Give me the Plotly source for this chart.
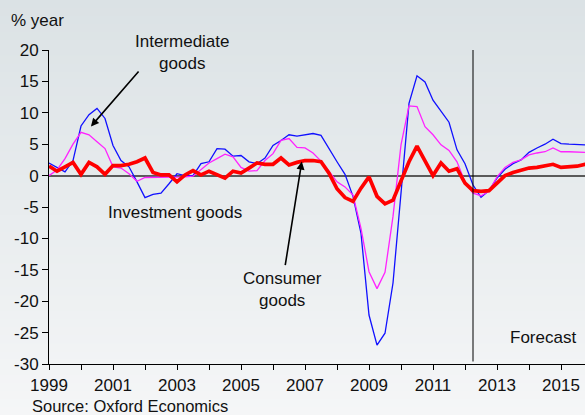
import pandas as pd
import plotly.graph_objects as go

# quarterly periods, 1999Q1 .. 2016Q1
quarters = pd.period_range("1999Q1", "2016Q1", freq="Q")

intermediate = [2.0, 1.3, 0.6, 2.4, 7.9, 9.7, 10.7, 9.1, 4.8, 2.4,
                1.4, -1.0, -3.5, -3.0, -2.8, -1.3, 0.3, 0.0, 0.0, 1.9,
                2.2, 4.3, 4.2, 3.1, 3.2, 2.2, 1.9, 2.8, 4.8, 5.6,
                6.5, 6.3, 6.5, 6.7, 6.4, 4.2, 2.2, 0.2, -3.3, -9.2,
                -22.2, -27.0, -25.1, -17.1, -3.0, 11.5, 15.9, 14.9, 12.0, 10.2,
                8.5, 4.1, 1.9, -1.5, -3.45, -2.4, -0.4, 1.0, 1.9, 2.5,
                3.7, 4.4, 5.0, 5.8, 5.1, 5.0, 5.0, 4.9, 4.85]
investment = [0.0, 0.9, 2.7, 5.0, 6.9, 6.5, 5.4, 4.3, 1.4, 1.2,
              0.3, -0.9, -0.3, -0.3, -0.2, -0.3, -0.2, -0.2, -0.1, 0.9,
              2.0, 2.7, 3.4, 3.0, 1.3, 0.7, 0.8, 2.4, 3.5, 5.6,
              5.9, 4.5, 4.4, 3.6, 2.3, 0.7, -1.0, -1.8, -3.1, -8.4,
              -15.3, -18.0, -15.4, -6.5, 4.9, 11.1, 11.0, 7.8, 6.5, 4.9,
              4.0, 2.2, -1.0, -2.8, -3.2, -2.5, -0.2, 1.3, 2.1, 2.5,
              3.3, 3.6, 3.8, 4.4, 3.8, 3.8, 3.7, 3.7, 3.7]
consumer = [1.5, 0.7, 1.4, 2.1, 0.2, 2.1, 1.4, 0.2, 1.6, 1.6,
            1.8, 2.2, 2.8, 0.5, 0.1, 0.1, -1.0, 0.1, 0.8, 0.1,
            0.7, 0.1, -0.4, 0.7, 0.4, 1.2, 2.0, 1.8, 1.8, 2.8,
            1.7, 2.1, 2.4, 2.4, 2.2, 0.4, -2.1, -3.5, -4.1, -2.0,
            -0.2, -3.3, -4.5, -3.9, -0.7, 2.2, 4.7, 2.4, 0.0, 2.0,
            0.7, 1.1, -1.2, -2.4, -2.5, -2.4, -1.1, 0.0, 0.5, 0.8,
            1.2, 1.3, 1.5, 1.8, 1.3, 1.4, 1.5, 1.8, 1.9]

forecast_start = 2012.25

x_tick_vals = list(range(1999, 2017))
x_tick_text = ["1999", "", "2001", "", "2003", "", "2005", "", "2007", "",
               "2009", "", "2011", "", "2013", "", "2015", ""]
y_tick_vals = [20, 15, 10, 5, 0, -5, -10, -15, -20, -25, -30]
y_tick_text = ["20", "15", "10", "5", "0", "-5", "-10", "-15", "-20", "-25", "-30"]

FONT = "Liberation Sans, Arial, sans-serif"
W, H = 585, 415
ML, MR, MT, MB = 49, 0, 50, 51

x = [p.year + (p.quarter - 1) / 4 for p in quarters]

fig = go.Figure()
fig.add_trace(go.Scatter(x=x, y=intermediate, mode="lines",
                         line=dict(color="#1010ff", width=1.3)))
fig.add_trace(go.Scatter(x=x, y=investment, mode="lines",
                         line=dict(color="#ff22ff", width=1.3)))
fig.add_trace(go.Scatter(x=x, y=consumer, mode="lines",
                         line=dict(color="#ff0000", width=3.7)))

# soft vertical gradient behind everything
n_bands = 52
top_c, bot_c = (219, 226, 229), (245, 246, 247)
plot_h = H - MT - MB
for i in range(n_bands):
    t = i / (n_bands - 1)
    c = tuple(round(top_c[k] + (bot_c[k] - top_c[k]) * t) for k in range(3))
    y0_px = H * i / n_bands
    y1_px = H * (i + 1) / n_bands + 1
    fig.add_shape(type="rect", xref="paper", yref="paper", layer="below",
                  x0=-ML / (W - ML - MR) - 0.01, x1=1.01,
                  y0=(H - MB - y1_px) / plot_h, y1=(H - MB - y0_px) / plot_h,
                  line=dict(width=0), fillcolor="rgb(%d,%d,%d)" % c)

# forecast divider
fig.add_shape(type="line", xref="x", yref="y", x0=forecast_start, x1=forecast_start,
              y0=-29.6, y1=20.5, line=dict(color="black", width=1))

txt = dict(family=FONT, size=17, color="#111111")
fig.add_annotation(x=2003.18, y=19.6, text="Intermediate<br>goods", showarrow=False,
                   font=txt, xanchor="center", yanchor="middle")
fig.add_annotation(x=2000.31, y=7.83, ax=2001.84, ay=16.83, axref="x", ayref="y",
                   text="", showarrow=True, arrowhead=2, arrowsize=1,
                   arrowwidth=1.6, arrowcolor="black")
fig.add_annotation(x=2002.93, y=-5.9, text="Investment goods", showarrow=False,
                   font=txt, xanchor="center", yanchor="middle")
fig.add_annotation(x=2006.31, y=-18.2, text="Consumer<br>goods", showarrow=False,
                   font=txt, xanchor="center", yanchor="middle")
fig.add_annotation(x=2006.90, y=2.23, ax=2006.375, ay=-14.49, axref="x", ayref="y",
                   text="", showarrow=True, arrowhead=2, arrowsize=1,
                   arrowwidth=1.6, arrowcolor="black")
fig.add_annotation(x=2014.44, y=-25.8, text="Forecast", showarrow=False,
                   font=txt, xanchor="center", yanchor="middle")
fig.add_annotation(xref="paper", yref="paper", x=(9 - ML) / (W - ML - MR),
                   y=(H - MB - 20) / plot_h, text="% year", showarrow=False,
                   font=txt, xanchor="left", yanchor="middle")
fig.add_annotation(xref="paper", yref="paper", x=(30 - ML) / (W - ML - MR),
                   y=(H - MB - 406) / plot_h, text="Source: Oxford Economics",
                   showarrow=False, font=dict(family=FONT, size=16.5, color="#111111"),
                   xanchor="left", yanchor="middle")

fig.update_layout(
    width=W, height=H,
    margin=dict(l=ML, r=MR, t=MT, b=MB),
    paper_bgcolor="#e9edef",
    plot_bgcolor="rgba(0,0,0,0)",
    showlegend=False,
    hovermode=False,
    font=dict(family=FONT, size=17, color="#111111"),
)
fig.update_xaxes(range=[1999, 1999 + (W - ML - MR) / 32], tickvals=x_tick_vals,
                 ticktext=x_tick_text, ticks="outside", ticklen=5, tickcolor="black",
                 showline=True, linecolor="black", linewidth=1, showgrid=False,
                 zeroline=False, ticklabelstandoff=1)
fig.update_yaxes(range=[-30, 20], tickvals=y_tick_vals, ticktext=y_tick_text,
                 ticks="outside", ticklen=6, tickcolor="black", showline=True,
                 linecolor="black", linewidth=1, showgrid=False,
                 zeroline=True, zerolinecolor="#5a5a5a", zerolinewidth=2)

# drop the default page margin so the figure sits at the window's corner
fig.write_html("out.html", config={"displayModeBar": False},
               post_script="document.body.style.margin='0';"
                           "document.body.style.overflow='hidden';")
